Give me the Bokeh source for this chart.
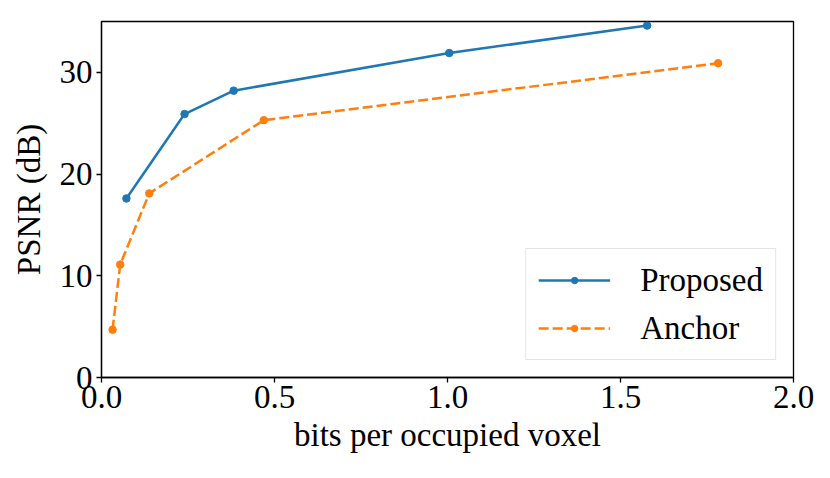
from bokeh.plotting import figure
from bokeh.models import Range1d, FixedTicker, NumeralTickFormatter, Legend, LegendItem
from bokeh.embed import file_html
from bokeh.resources import INLINE

proposed_x = [0.072, 0.240, 0.382, 1.005, 1.577]
proposed_y = [17.6, 25.9, 28.2, 31.9, 34.6]
anchor_x = [0.032, 0.054, 0.138, 0.469, 1.782]
anchor_y = [4.7, 11.1, 18.1, 25.3, 30.9]
x_ticks = [0.0, 0.5, 1.0, 1.5, 2.0]
y_ticks = [0, 10, 20, 30]

FONT = "Liberation Serif"
FS = "33px"
BLUE = "#1f77b4"
ORANGE = "#ff7f0e"

p = figure(width=822, height=470, output_backend="svg", toolbar_location=None,
           x_range=Range1d(0, 2.0), y_range=Range1d(0, 35),
           min_border_left=101, min_border_right=29, min_border_top=21, min_border_bottom=93)
p.xgrid.visible = False
p.ygrid.visible = False
p.outline_line_color = "black"
p.outline_line_width = 1.3
p.background_fill_color = "white"
p.border_fill_color = "white"

for ax in (p.xaxis[0], p.yaxis[0]):
    ax.axis_line_color = "black"
    ax.axis_line_width = 1.3
    ax.major_tick_line_color = "black"
    ax.major_tick_line_width = 1.3
    ax.major_tick_out = 5
    ax.major_tick_in = 0
    ax.minor_tick_line_color = None
    ax.major_label_text_font = FONT
    ax.major_label_text_font_size = FS
    ax.major_label_text_color = "black"
    ax.axis_label_text_font = FONT
    ax.axis_label_text_font_size = FS
    ax.axis_label_text_font_style = "normal"
    ax.axis_label_text_color = "black"

p.xaxis.ticker = FixedTicker(ticks=x_ticks)
p.xaxis.formatter = NumeralTickFormatter(format="0.0")
p.yaxis.ticker = FixedTicker(ticks=y_ticks)
p.xaxis.axis_label = "bits per occupied voxel"
p.yaxis.axis_label = "PSNR (dB)"
p.xaxis.major_label_standoff = 3
p.yaxis.major_label_standoff = 4
p.xaxis.axis_label_standoff = 6
p.yaxis.axis_label_standoff = 10

l1 = p.line(proposed_x, proposed_y, line_color=BLUE, line_width=2.5)
s1 = p.scatter(proposed_x, proposed_y, size=7.5, fill_color=BLUE, line_color=BLUE)
l2 = p.line(anchor_x, anchor_y, line_color=ORANGE, line_width=2.5, line_dash="10 4")
s2 = p.scatter(anchor_x, anchor_y, size=7.5, fill_color=ORANGE, line_color=ORANGE)

legend = Legend(items=[LegendItem(label="Proposed", renderers=[l1, s1]),
                       LegendItem(label="Anchor", renderers=[l2, s2])],
                location="bottom_right")
legend.margin = 17
legend.padding = 12
legend.spacing = 10
legend.glyph_width = 72
legend.glyph_height = 16
legend.label_height = 38
legend.label_standoff = 30
legend.label_text_font = FONT
legend.label_text_font_size = FS
legend.label_text_color = "black"
legend.border_line_color = "#cccccc"
legend.border_line_width = 1.2
legend.background_fill_alpha = 0.8
p.add_layout(legend, "center")

open("out.html", "w").write(file_html(p, INLINE))
